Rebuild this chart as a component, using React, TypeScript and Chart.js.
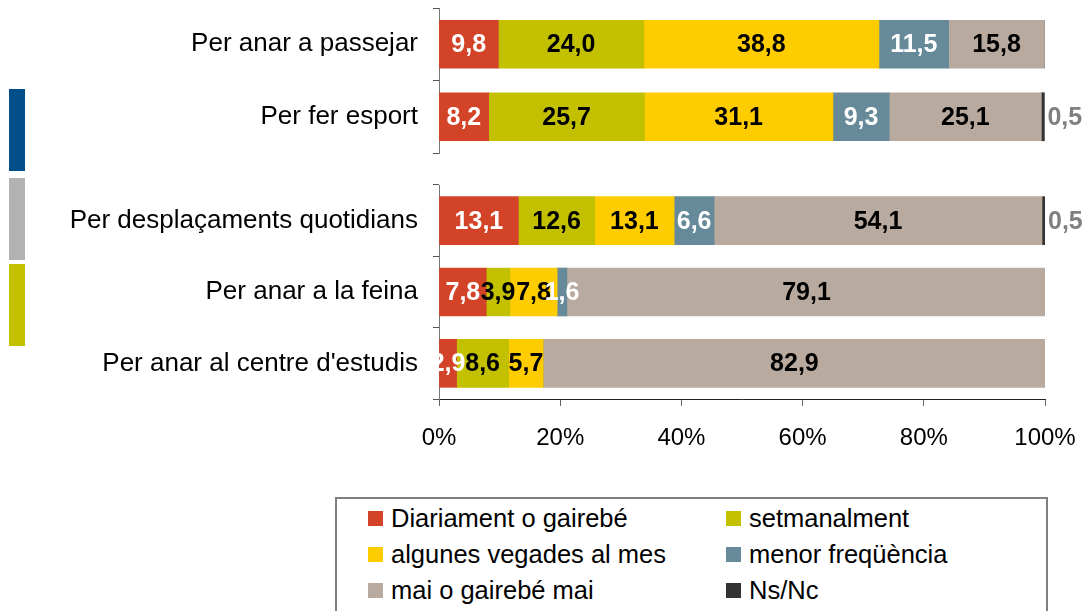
import React, { useEffect, useRef } from 'react';
import { Chart, registerables } from 'chart.js';

Chart.register(...registerables);

// ---- data ----
const categoriesTop = ['Per anar a passejar', 'Per fer esport'];
const categoriesBottom = ['Per desplaçaments quotidians', 'Per anar a la feina', "Per anar al centre d'estudis"];

const seriesNames = [
  'Diariament o gairebé',
  'setmanalment',
  'algunes vegades al mes',
  'menor freqüència',
  'mai o gairebé mai',
  'Ns/Nc',
];

// values per row: passejar, esport, desplaçaments, feina, centre d'estudis
const diariament = [9.8, 8.2, 13.1, 7.8, 2.9];
const setmanalment = [24.0, 25.7, 12.6, 3.9, 8.6];
const algunesVegades = [38.8, 31.1, 13.1, 7.8, 5.7];
const menorFrequencia = [11.5, 9.3, 6.6, 1.6, 0];
const maiGairebeMai = [15.8, 25.1, 54.1, 79.1, 82.9];
const nsNc = [0, 0.5, 0.5, 0, 0];

const xTickValues = [0, 20, 40, 60, 80, 100];

const seriesValues = [diariament, setmanalment, algunesVegades, menorFrequencia, maiGairebeMai, nsNc];
const seriesColors = ['#D24328', '#C3C000', '#FFCC00', '#668A99', '#B8AA9F', '#333333'];
const labelColors = ['#FFFFFF', '#000000', '#000000', '#FFFFFF', '#000000', '#808080'];
const markerColors = ['#004F8A', '#B2B2B2', '#C3C000'];

const FONT = '"Liberation Sans", Arial, Helvetica, sans-serif';

const fmt = (v: number) => v.toFixed(1).replace('.', ',');

const labelPlugin = {
  id: 'segLabels',
  afterDatasetsDraw(chart: any) {
    const ctx = chart.ctx;
    const area = chart.chartArea;
    ctx.save();
    ctx.beginPath();
    ctx.rect(area.left, 0, chart.width - area.left, chart.height);
    ctx.clip();
    ctx.font = `bold 25px ${FONT}`;
    ctx.textBaseline = 'middle';
    chart.data.datasets.forEach((ds: any, di: number) => {
      const meta = chart.getDatasetMeta(di);
      meta.data.forEach((el: any, i: number) => {
        const v = ds.data[i];
        if (!v) return;
        ctx.fillStyle = labelColors[di];
        if (di === seriesNames.length - 1) {
          ctx.textAlign = 'left';
          ctx.fillText(fmt(v), el.x + 3, el.y + 1);
        } else {
          ctx.textAlign = 'center';
          ctx.fillText(fmt(v), (el.x + el.base) / 2, el.y + 1);
        }
      });
    });
    ctx.restore();
  },
};

function buildConfig(labels: string[], start: number, bottom: boolean): any {
  const n = labels.length;
  return {
    type: 'bar',
    data: {
      labels,
      datasets: seriesNames.map((name, i) => ({
        label: name,
        data: seriesValues[i].slice(start, start + n),
        backgroundColor: seriesColors[i],
        borderWidth: 0,
        barThickness: 48,
      })),
    },
    plugins: [labelPlugin],
    options: {
      indexAxis: 'y',
      responsive: false,
      maintainAspectRatio: false,
      animation: false,
      layout: { padding: bottom ? { top: 25, right: 38, left: 0, bottom: 0 } : { top: 8, right: 38, left: 0, bottom: 12 } },
      plugins: { legend: { display: false }, tooltip: { enabled: false } },
      scales: {
        x: {
          stacked: true,
          min: 0,
          max: 100,
          display: bottom,
          afterBuildTicks: (s: any) => {
            s.ticks = xTickValues.map((v) => ({ value: v }));
          },
          afterFit: (s: any) => {
            s.height = bottom ? 71 : 0;
            s.paddingLeft = 0;
            s.paddingRight = 0;
            s.paddingTop = 0;
            s.paddingBottom = 0;
          },
          grid: { drawOnChartArea: false, tickLength: 7, color: '#666666' },
          border: { color: '#222222', width: 1 },
          ticks: {
            callback: (v: any) => v + '%',
            font: { family: FONT, size: 24 },
            color: '#000000',
            padding: 18,
            maxRotation: 0,
          },
        },
        y: {
          stacked: true,
          afterFit: (s: any) => {
            s.width = 439;
            s.paddingTop = 0;
            s.paddingBottom = 0;
            s.paddingLeft = 0;
            s.paddingRight = 0;
          },
          grid: { offset: true, drawOnChartArea: false, tickLength: 6, color: '#555555' },
          border: { color: '#777777', width: 1 },
          ticks: {
            font: { family: FONT, size: 26 },
            color: '#000000',
            padding: 15,
          },
        },
      },
    },
  };
}

export default function App() {
  const topRef = useRef<HTMLCanvasElement>(null);
  const botRef = useRef<HTMLCanvasElement>(null);

  useEffect(() => {
    const c1 = new Chart(topRef.current as HTMLCanvasElement, buildConfig(categoriesTop, 0, false));
    const c2 = new Chart(botRef.current as HTMLCanvasElement, buildConfig(categoriesBottom, categoriesTop.length, true));
    return () => {
      c1.destroy();
      c2.destroy();
    };
  }, []);

  const markerTops = [89, 178, 264];

  return (
    <div style={{ position: 'absolute', left: 0, top: 0, width: 1083, height: 611, overflow: 'hidden', background: '#fff' }}>
      {markerColors.map((c, i) => (
        <div key={i} style={{ position: 'absolute', left: 9, top: markerTops[i], width: 16, height: 82, background: c }} />
      ))}
      <canvas ref={topRef} width={1083} height={165} style={{ position: 'absolute', left: 0, top: 0, display: 'block' }} />
      <canvas ref={botRef} width={1083} height={310} style={{ position: 'absolute', left: 0, top: 160, display: 'block' }} />
      <div
        style={{
          position: 'absolute',
          left: 335,
          top: 497,
          width: 713,
          height: 140,
          boxSizing: 'border-box',
          border: '2px solid #7F7F7F',
          fontFamily: FONT,
          fontSize: 25.5,
          color: '#000',
        }}
      >
        {seriesNames.map((name, i) => {
          const col = i % 2;
          const row = Math.floor(i / 2);
          const cy = 19 + row * 36;
          const sqLeft = col ? 389 : 31;
          return (
            <React.Fragment key={name}>
              <div style={{ position: 'absolute', left: sqLeft, top: cy - 7, width: 15, height: 15, background: seriesColors[i] }} />
              <div style={{ position: 'absolute', left: sqLeft + 23, top: cy - 15, height: 30, lineHeight: '30px', whiteSpace: 'nowrap' }}>{name}</div>
            </React.Fragment>
          );
        })}
      </div>
    </div>
  );
}
